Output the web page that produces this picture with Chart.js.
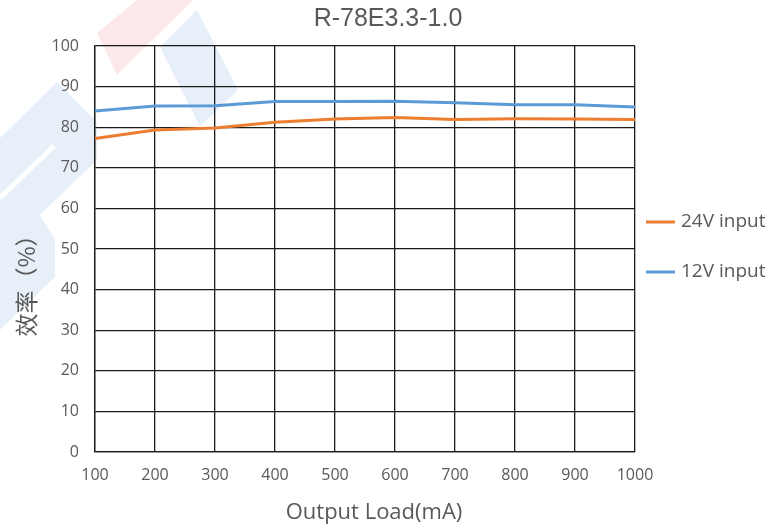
<!DOCTYPE html>
<html>
<head>
<meta charset="utf-8">
<script src="https://cdn.jsdelivr.net/npm/chart.js@4.4.1/dist/chart.umd.min.js"></script>
<style>
  html, body { margin: 0; padding: 0; background: #ffffff; }
  #wrap { width: 777px; height: 530px; }
</style>
</head>
<body>
<div id="wrap"><canvas id="c" width="777" height="530"></canvas></div>
<script>
const chartTitle = 'R-78E3.3-1.0';
const xTitle = 'Output Load(mA)';
const yTitle = '效率（%）';
const loadLabels = ['100', '200', '300', '400', '500', '600', '700', '800', '900', '1000'];
const seriesNames = ['24V input', '12V input'];
const input24V = [77.2, 79.3, 79.8, 81.2, 82.0, 82.4, 81.9, 82.1, 82.0, 81.9];
const input12V = [84.0, 85.2, 85.3, 86.3, 86.3, 86.4, 86.0, 85.5, 85.5, 85.0];
const yMin = 0, yMax = 100, yStep = 10;

const textGray = '#595959';
const colors = ['#ED7D31', '#5B9BD5'];

const watermark = {
  id: 'watermark',
  beforeDraw(chart) {
    const ctx = chart.ctx;
    ctx.save();
    ctx.fillStyle = '#ffffff';
    ctx.fillRect(0, 0, chart.width, chart.height);
    const poly = (pts, col) => {
      ctx.beginPath();
      ctx.moveTo(pts[0][0], pts[0][1]);
      for (let i = 1; i < pts.length; i++) ctx.lineTo(pts[i][0], pts[i][1]);
      ctx.closePath();
      ctx.fillStyle = col;
      ctx.fill();
    };
    poly([[97, 33], [137, 0], [193, 0], [117, 75]], 'rgba(240, 90, 100, 0.14)');
    poly([[160, 47], [197, 10], [238, 90], [200, 127]], 'rgba(91, 155, 213, 0.15)');
    poly([[0, 138], [57, 82], [97, 122], [97, 160], [40, 215], [55, 240], [55, 277], [0, 330]], 'rgba(91, 155, 213, 0.15)');
    ctx.strokeStyle = '#ffffff';
    ctx.lineWidth = 5;
    ctx.beginPath();
    ctx.moveTo(54, 146);
    ctx.lineTo(0, 198);
    ctx.stroke();
    ctx.restore();
  }
};

const extras = {
  id: 'extras',
  afterDraw(chart) {
    const ctx = chart.ctx;
    // chart title
    ctx.save();
    ctx.fillStyle = textGray;
    ctx.font = '25px "Liberation Sans", Arial';
    ctx.textAlign = 'center';
    ctx.textBaseline = 'middle';
    ctx.fillText(chartTitle, 388, 19);
    // x axis title
    ctx.font = '22px "Open Sans"';
    ctx.fillText(xTitle, 374, 513);
    ctx.restore();
    // y axis title (rotated)
    ctx.save();
    ctx.translate(26, 280);
    ctx.rotate(-Math.PI / 2);
    ctx.fillStyle = textGray;
    ctx.font = '23px "Noto Sans CJK SC", "Noto Sans"';
    ctx.textAlign = 'center';
    ctx.textBaseline = 'middle';
    ctx.fillText(yTitle, 0, 0);
    ctx.restore();
    // legend
    ctx.save();
    const ys = [222, 272];
    chart.data.datasets.forEach((ds, i) => {
      ctx.strokeStyle = ds.borderColor;
      ctx.lineWidth = 3;
      ctx.beginPath();
      ctx.moveTo(646, ys[i]);
      ctx.lineTo(675, ys[i]);
      ctx.stroke();
      ctx.fillStyle = textGray;
      ctx.font = '19px "Open Sans"';
      ctx.textAlign = 'left';
      ctx.textBaseline = 'middle';
      ctx.fillText(ds.label, 681, ys[i]);
    });
    ctx.restore();
  }
};

new Chart(document.getElementById('c'), {
  type: 'line',
  data: {
    labels: loadLabels,
    datasets: [
      { label: seriesNames[0], data: input24V, borderColor: colors[0], backgroundColor: colors[0], borderWidth: 3, pointRadius: 0, tension: 0, fill: false },
      { label: seriesNames[1], data: input12V, borderColor: colors[1], backgroundColor: colors[1], borderWidth: 3, pointRadius: 0, tension: 0, fill: false }
    ]
  },
  options: {
    responsive: false,
    animation: false,
    devicePixelRatio: 1,
    layout: { padding: { left: 0, right: 142, top: 46, bottom: 0 } },
    plugins: {
      legend: { display: false },
      tooltip: { enabled: false },
      title: { display: false }
    },
    scales: {
      x: {
        type: 'category',
        offset: false,
        grid: { color: '#1a1a1a', lineWidth: 1.3, drawTicks: false },
        border: { color: '#1a1a1a', width: 1.3 },
        ticks: { color: textGray, font: { family: '"Open Sans"', size: 16 }, padding: 14, maxRotation: 0, autoSkip: false },
        afterFit(s) { s.height = 78; }
      },
      y: {
        min: yMin, max: yMax,
        grid: { color: '#1a1a1a', lineWidth: 1.3, drawTicks: false },
        border: { color: '#1a1a1a', width: 1.3 },
        ticks: { stepSize: yStep, color: textGray, font: { family: '"Open Sans"', size: 16 }, padding: 16 },
        afterFit(s) { s.width = 95; }
      }
    }
  },
  plugins: [watermark, extras]
});
</script>
</body>
</html>
